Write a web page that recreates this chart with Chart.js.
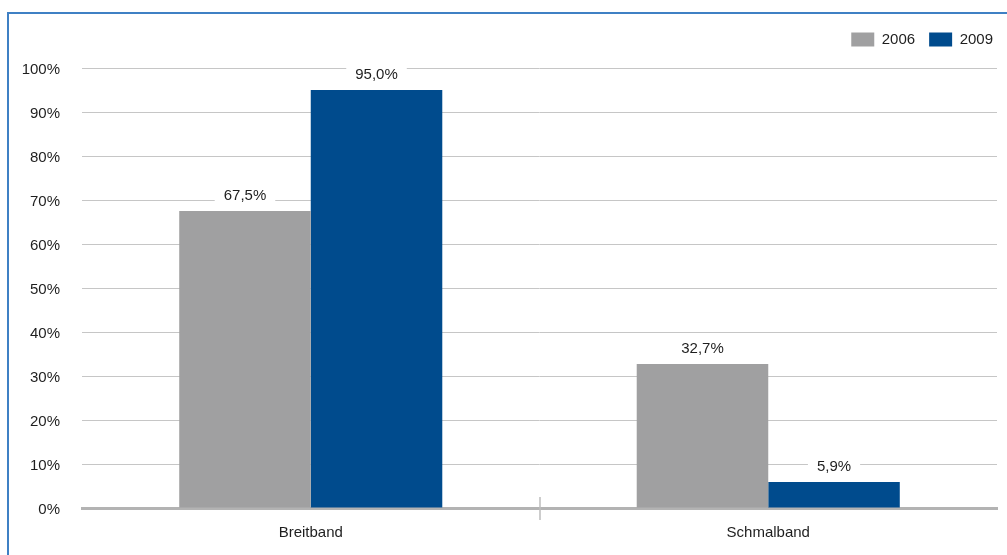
<!DOCTYPE html>
<html>
<head>
<meta charset="utf-8">
<script src="https://cdn.jsdelivr.net/npm/chart.js@4/dist/chart.umd.min.js"></script>
<style>
  html, body { margin: 0; padding: 0; background: #fff; }
  #wrap { position: relative; width: 1007px; height: 555px; overflow: hidden; }
  #frame { position: absolute; left: 7px; top: 12px; right: -10px; bottom: -10px;
           border-left: 2px solid #3f80c4; border-top: 2px solid #3f80c4; pointer-events: none; }
  canvas { position: absolute; left: 0; top: 0; }
</style>
</head>
<body>
<div id="wrap">
  <canvas id="c" width="1007" height="555"></canvas>
  <div id="frame"></div>
</div>
<script>
// Anteil der Anschlussarten
const categories = ['Breitband', 'Schmalband'];
const years = ['2006', '2009'];
const values2006 = [67.5, 32.7];
const values2009 = [95.0, 5.9];
const yTicks = [0, 10, 20, 30, 40, 50, 60, 70, 80, 90, 100];
const seriesColors = ['#a0a0a1', '#004b8d'];

const FONT = '"Liberation Sans", Arial, Helvetica, sans-serif';
const TEXT = '#1e1e1e';

const fmt = v => v.toFixed(1).replace('.', ',') + '%';

// value labels above each bar, on a white plate that interrupts the grid lines
const valueLabels = {
  id: 'valueLabels',
  afterDatasetsDraw(chart) {
    const ctx = chart.ctx;
    ctx.save();
    ctx.font = '15px ' + FONT;
    ctx.textAlign = 'center';
    ctx.textBaseline = 'middle';
    chart.data.datasets.forEach((ds, di) => {
      chart.getDatasetMeta(di).data.forEach((bar, i) => {
        const txt = fmt(ds.data[i]);
        const w = ctx.measureText(txt).width + 18;
        const cy = bar.y - 15;
        ctx.fillStyle = '#ffffff';
        ctx.fillRect(bar.x - w / 2, cy - 10, w, 20);
        ctx.fillStyle = TEXT;
        ctx.fillText(txt, bar.x, cy);
      });
    });
    ctx.restore();
  }
};

// short separator tick on the category axis between the two groups
const groupSeparator = {
  id: 'groupSeparator',
  afterDraw(chart) {
    const xs = chart.scales.x;
    const ctx = chart.ctx;
    const ys = chart.scales.y;
    for (let i = 0; i < categories.length - 1; i++) {
      const x = Math.round((xs.getPixelForTick(i) + xs.getPixelForTick(i + 1)) / 2);
      const y0 = ys.getPixelForValue(0);
      ctx.save();
      ctx.strokeStyle = '#bdbdbd';
      ctx.lineWidth = 1.5;
      ctx.beginPath();
      ctx.moveTo(x, y0 - 11);
      ctx.lineTo(x, y0 + 12);
      ctx.stroke();
      ctx.restore();
    }
  }
};

// extra room between the legend row and the plot
const legendGap = {
  id: 'legendGap',
  beforeLayout(chart) {
    const lg = chart.legend;
    if (lg && !lg.__gapWrapped) {
      const fit = lg.fit;
      lg.fit = function () { fit.call(this); this.height += 11; };
      lg.__gapWrapped = true;
    }
  }
};

new Chart(document.getElementById('c'), {
  type: 'bar',
  data: {
    labels: categories,
    datasets: [
      { label: years[0], data: values2006, backgroundColor: seriesColors[0], borderWidth: 0 },
      { label: years[1], data: values2009, backgroundColor: seriesColors[1], borderWidth: 0 }
    ]
  },
  options: {
    responsive: false,
    animation: false,
    devicePixelRatio: 1,
    layout: { padding: { left: 8, right: 0, top: 18, bottom: 13 } },
    datasets: { bar: { categoryPercentage: 0.575, barPercentage: 1.0 } },
    plugins: {
      tooltip: { enabled: false },
      legend: {
        position: 'top',
        align: 'end',
        labels: {
          boxWidth: 23,
          boxHeight: 14,
          padding: 14,
          color: TEXT,
          font: { family: FONT, size: 15 }
        }
      }
    },
    scales: {
      x: {
        z: 1,
        afterFit: s => { s.height = 34; },
        grid: { display: false, drawTicks: false },
        border: { display: true, color: '#b3b3b3', width: 3 },
        ticks: { color: TEXT, padding: 16, font: { family: FONT, size: 15 } }
      },
      y: {
        min: 0,
        max: 100,
        afterBuildTicks: s => { s.ticks = yTicks.map(v => ({ value: v })); },
        afterFit: s => { s.width = 74; },
        grid: { color: '#c6c6c6', lineWidth: 1, drawTicks: false },
        border: { display: false },
        ticks: {
          color: TEXT,
          padding: 22,
          labelOffset: 2,
          font: { family: FONT, size: 15 },
          callback: v => v + '%'
        }
      },
      // empty right-hand margin strip
      yRight: {
        position: 'right',
        afterFit: s => { s.width = 10; },
        grid: { display: false, drawTicks: false },
        border: { display: false },
        ticks: { display: false }
      }
    }
  },
  plugins: [valueLabels, groupSeparator, legendGap]
});
</script>
</body>
</html>
